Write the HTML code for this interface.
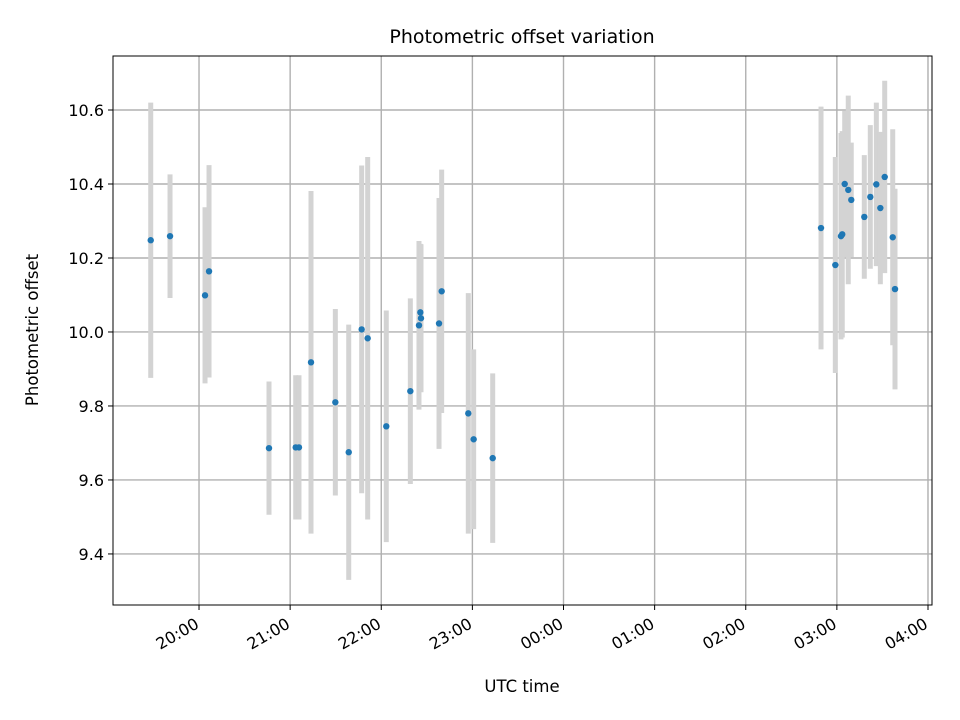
<!DOCTYPE html>
<html><head><meta charset="utf-8"><style>
body{margin:0;background:#fff}
svg{display:block;font-family:"DejaVu Sans","Liberation Sans",sans-serif}
</style></head><body>
<svg id="chart" width="960" height="720" viewBox="0 0 960 720" xmlns="http://www.w3.org/2000/svg">
<rect width="960" height="720" fill="#fff"/>
<g id="grid"></g>
<g id="errs"></g>
<g id="pts"></g>
<rect x="113" y="56" width="819" height="549" fill="none" stroke="#000" stroke-width="1"/>
<g id="ticks"></g>
<text x="522" y="43" font-size="19" text-anchor="middle">Photometric offset variation</text>
<text x="522" y="692" font-size="16.5" text-anchor="middle">UTC time</text>
<text x="38" y="330" font-size="16.5" text-anchor="middle" transform="rotate(-90 38 330)">Photometric offset</text>
</svg>
<script>
// hours relative to 20:00 UTC
const times=[-0.530,-0.318,0.066,0.110,0.768,1.061,1.097,1.229,1.496,1.643,1.785,1.851,2.055,2.319,2.414,2.429,2.436,2.634,2.663,2.955,3.014,3.223,6.826,6.983,7.045,7.059,7.086,7.125,7.158,7.301,7.367,7.433,7.477,7.525,7.613,7.638];
const offsets=[10.248,10.259,10.099,10.164,9.686,9.688,9.688,9.918,9.810,9.675,10.007,9.983,9.745,9.840,10.018,10.053,10.037,10.023,10.110,9.780,9.710,9.659,10.281,10.181,10.259,10.264,10.400,10.384,10.357,10.311,10.365,10.399,10.335,10.419,10.256,10.116];
const errors=[0.372,0.167,0.238,0.287,0.180,0.195,0.195,0.463,0.252,0.345,0.443,0.490,0.313,0.251,0.228,0.185,0.200,0.339,0.329,0.325,0.243,0.229,0.328,0.292,0.279,0.279,0.198,0.255,0.155,0.167,0.194,0.221,0.206,0.260,0.292,0.271];
const xTicks=[0,1,2,3,4,5,6,7,8];
const xTickLabels=["20:00","21:00","22:00","23:00","00:00","01:00","02:00","03:00","04:00"];
const yTicks=[9.4,9.6,9.8,10.0,10.2,10.4,10.6];
const yTickLabels=["9.4","9.6","9.8","10.0","10.2","10.4","10.6"];
const L=113,R=932,T=56,B=605;
const xMin=-0.944,xMax=8.044,yMin=9.262,yMax=10.746;
const xs=v=>L+(v-xMin)/(xMax-xMin)*(R-L);
const ys=v=>B-(v-yMin)/(yMax-yMin)*(B-T);
const NS="http://www.w3.org/2000/svg";
function mk(t,a,p){const e=document.createElementNS(NS,t);for(const k in a)e.setAttribute(k,a[k]);p.appendChild(e);return e;}
const grid=document.getElementById('grid'),ticks=document.getElementById('ticks'),errs=document.getElementById('errs'),pts=document.getElementById('pts');
xTicks.forEach((t,i)=>{const x=xs(t);
 const g=mk('line',{x1:x,x2:x,y1:T,y2:B,stroke:'#b0b0b0','stroke-width':1.4},grid);
 
 
 const tk=mk('line',{x1:x,x2:x,y1:B,y2:B+5,stroke:'#000'},ticks);
 
 
 const ax=x+1,ay=B+22;
 const tx=mk('text',{x:ax,y:ay,'font-size':16,'text-anchor':'end',transform:`rotate(-30 ${ax} ${ay})`},ticks);
 tx.textContent=xTickLabels[i];
 
 
});
yTicks.forEach((t,i)=>{const y=ys(t);
 const g=mk('line',{x1:L,x2:R,y1:y,y2:y,stroke:'#b0b0b0','stroke-width':1.4},grid);
 
 
 const tk=mk('line',{x1:L-5,x2:L,y1:y,y2:y,stroke:'#000'},ticks);
 
 
 const tx=mk('text',{x:L-9,y:y+6,'font-size':16,'text-anchor':'end'},ticks);
 tx.textContent=yTickLabels[i];
 
 
});
times.forEach((t,i)=>{const x=xs(t);
 const e=mk('line',{x1:x,x2:x,y1:ys(offsets[i]+errors[i]),y2:ys(offsets[i]-errors[i]),stroke:'#d3d3d3','stroke-width':5},errs);
 
 
 const c=mk('circle',{cx:x,cy:ys(offsets[i]),r:3.2,fill:'#1f77b4'},pts);
 
 
});
</script>
</body></html>
